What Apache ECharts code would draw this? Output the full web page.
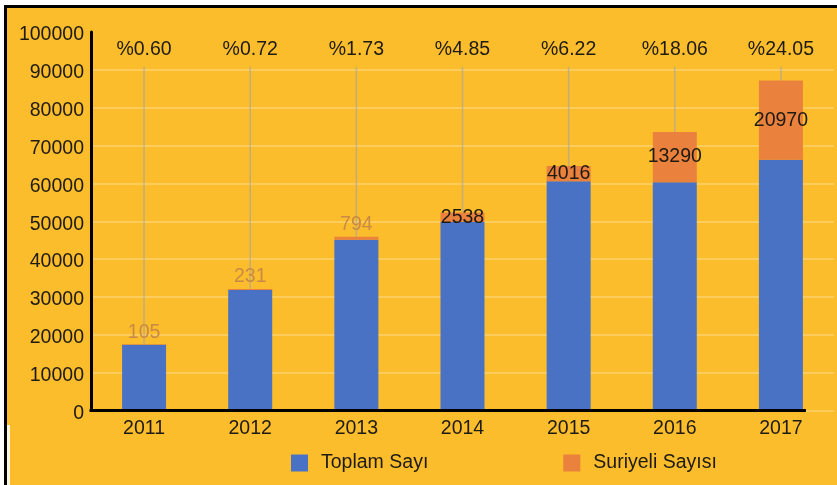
<!DOCTYPE html>
<html>
<head>
<meta charset="utf-8">
<script src="https://cdn.jsdelivr.net/npm/echarts@6/dist/echarts.min.js"></script>
<style>
  html, body { margin: 0; padding: 0; background: #ffffff; }
  #chart { width: 837px; height: 485px; }
</style>
</head>
<body>
<div id="chart"></div>
<script>
// Yıllara göre toplam sayı ve Suriyeli sayısı
const years = ['2011', '2012', '2013', '2014', '2015', '2016', '2017'];
const toplamValues = [17400, 31850, 45100, 49800, 60550, 60300, 66220];
const suriyeliValues = [105, 231, 794, 2538, 4016, 13290, 20970];
const shareLabels = ['%0.60', '%0.72', '%1.73', '%4.85', '%6.22', '%18.06', '%24.05'];
const yTicks = { min: 0, max: 100000, interval: 10000 };

const FONT = "'Liberation Sans', Arial, sans-serif";
const FS = 19.5;
const BG = '#FBBD2B';
const BLUE = '#4A72C4';
const ORANGE = '#EA813C';
const TEXT = '#1e1a14';

const chart = echarts.init(document.getElementById('chart'), null, { renderer: 'canvas' });

const gridLineColors = [];
for (let v = yTicks.min; v <= yTicks.max; v += yTicks.interval) {
  gridLineColors.push(v === yTicks.max ? 'rgba(0,0,0,0)' : 'rgba(255,255,255,0.32)');
}

const suriyeliData = suriyeliValues.map((v, i) => {
  const small = i < 3;
  return {
    value: v,
    label: small
      ? { position: 'top', distance: 2, color: '#C98A45' }
      : { position: 'inside', color: TEXT }
  };
});

const shareData = years.map((y, i) => [i, toplamValues[i], suriyeliValues[i]]);

chart.setOption({
  backgroundColor: BG,
  animation: false,
  grid: { left: 91, top: 32, width: 743, bottom: 74.5, containLabel: false },
  legend: {
    left: 291,
    top: 453,
    padding: 0,
    itemWidth: 17,
    itemHeight: 17,
    itemGap: 135,
    icon: 'rect',
    data: ['Toplam Sayı', 'Suriyeli Sayısı'],
    textStyle: { fontFamily: FONT, fontSize: FS, color: TEXT, padding: [0, 0, 0, 8] }
  },
  xAxis: {
    type: 'category',
    data: years,
    axisLine: { show: false },
    axisTick: { show: false },
    axisLabel: { fontFamily: FONT, fontSize: FS, color: TEXT, margin: 8 }
  },
  yAxis: {
    type: 'value',
    min: yTicks.min,
    max: yTicks.max,
    interval: yTicks.interval,
    axisLine: { show: true, lineStyle: { color: '#000', width: 3 } },
    axisTick: { show: false },
    axisLabel: {
      fontFamily: FONT, fontSize: FS, color: TEXT, margin: 7,
      formatter: function (v) { return '{v|' + v + '}'; },
      rich: { v: { fontFamily: FONT, fontSize: FS, color: TEXT, padding: [6, 0, 0, 0] } }
    },
    splitLine: { show: true, lineStyle: { color: gridLineColors, width: 1.5 } }
  },
  series: [
    {
      name: 'Toplam Sayı',
      type: 'bar',
      stack: 'toplam',
      barWidth: 44,
      itemStyle: { color: BLUE },
      data: toplamValues,
      z: 3
    },
    {
      name: 'Suriyeli Sayısı',
      type: 'bar',
      stack: 'toplam',
      barWidth: 44,
      itemStyle: { color: ORANGE },
      label: { show: true, fontFamily: FONT, fontSize: FS },
      data: suriyeliData,
      z: 3
    },
    {
      // Oran etiketleri ve sütun tepesine inen ince çizgiler
      name: 'oran',
      type: 'custom',
      data: shareData,
      z: 2,
      silent: true,
      renderItem: function (params, api) {
        const idx = api.value(0);
        const total = api.value(1) + api.value(2);
        const top = api.coord([idx, 90800]);
        const bottom = api.coord([idx, total]);
        return {
          type: 'group',
          children: [
            {
              type: 'line',
              shape: { x1: top[0], y1: top[1], x2: bottom[0], y2: bottom[1] },
              style: { stroke: 'rgba(150,160,185,0.55)', lineWidth: 1.5 }
            },
            {
              type: 'text',
              style: {
                x: top[0], y: top[1] - 17,
                text: shareLabels[params.dataIndex],
                align: 'center', verticalAlign: 'middle',
                font: FS + 'px ' + FONT,
                fill: TEXT
              }
            }
          ]
        };
      }
    }
  ]
});

// Yatay eksen çizgisi: y ekseninden son sütunun hemen sağına kadar
const firstCat = chart.convertToPixel({ gridIndex: 0 }, [0, 0]);
const lastCat = chart.convertToPixel({ gridIndex: 0 }, [years.length - 1, 0]);
const band = (lastCat[0] - firstCat[0]) / (years.length - 1);
chart.setOption({
  graphic: [
    {
      type: 'line', z: 10,
      shape: { x1: firstCat[0] - band / 2 - 1.5, y1: firstCat[1], x2: lastCat[0] + 25, y2: firstCat[1] },
      style: { stroke: '#000', lineWidth: 3 }
    },
    // çerçeve
    { type: 'rect', z: 20, shape: { x: 0, y: 0, width: 837, height: 5 }, style: { fill: '#ffffff' } },
    { type: 'rect', z: 20, shape: { x: 0, y: 0, width: 4, height: 485 }, style: { fill: '#ffffff' } },
    { type: 'rect', z: 21, shape: { x: 4, y: 5, width: 833, height: 3 }, style: { fill: '#000000' } },
    { type: 'rect', z: 21, shape: { x: 4, y: 5, width: 3, height: 480 }, style: { fill: '#000000' } },
    { type: 'rect', z: 20, shape: { x: 7, y: 425, width: 3, height: 60 }, style: { fill: '#fff6e0' } }
  ]
});
</script>
</body>
</html>
